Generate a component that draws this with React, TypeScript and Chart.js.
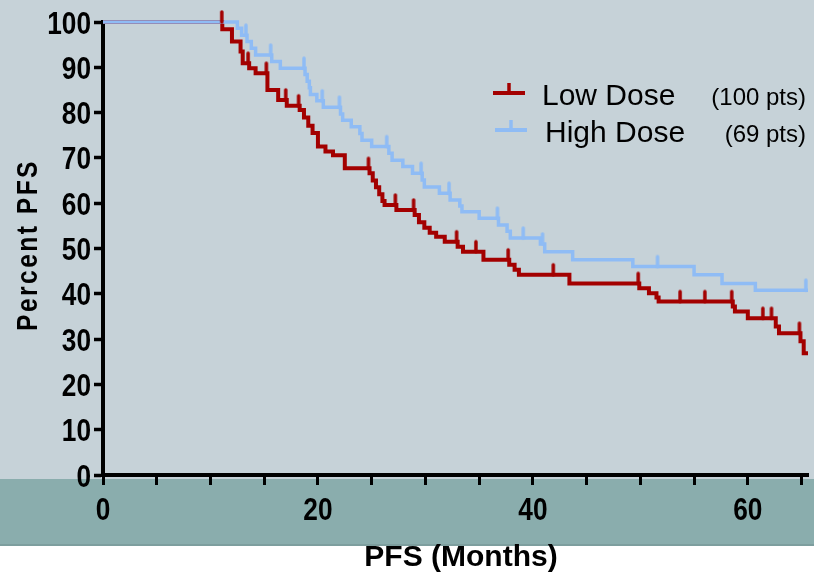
import React, { useEffect, useRef } from 'react';
import { Chart, registerables } from 'chart.js';

Chart.register(...registerables);

// ---- Data (months, percent PFS) ----
const lowTimes = [0, 11.1, 12.0, 12.8, 13.0, 13.6, 14.2, 15.3, 16.3, 17.1, 18.3, 18.7, 19.1, 19.5, 20.0, 20.7, 21.4, 22.5, 24.8, 25.1, 25.4, 25.7, 26.0, 26.2, 27.3, 29.0, 29.4, 29.9, 30.4, 31.0, 31.8, 33.0, 33.5, 35.4, 37.8, 38.3, 38.7, 43.4, 49.9, 50.8, 51.5, 51.7, 58.6, 58.8, 60.0, 62.6, 62.9, 64.9, 65.2, 65.6];
const lowSurv = [100, 98.4, 95.7, 93.5, 90.9, 89.8, 88.7, 85.0, 82.8, 81.5, 80.6, 78.9, 77.1, 75.5, 72.5, 71.4, 70.6, 67.7, 66.6, 65.0, 63.5, 62.0, 60.5, 59.6, 58.5, 57.4, 55.8, 54.6, 53.5, 52.6, 51.5, 50.4, 49.3, 47.5, 46.4, 45.3, 44.2, 42.3, 41.2, 40.1, 39.2, 38.3, 37.2, 36.1, 34.6, 32.8, 31.3, 29.5, 26.9, 26.9];
const lowCensor = [11.05, 13.5, 15.2, 17.0, 18.2, 24.7, 27.2, 28.9, 32.9, 34.7, 37.7, 41.9, 49.8, 53.7, 56.0, 58.5, 61.4, 62.2, 64.8];

const highTimes = [0, 12.5, 12.9, 13.4, 13.8, 14.2, 15.7, 16.5, 18.8, 19.0, 19.2, 19.3, 19.9, 20.5, 22.1, 22.3, 23.1, 23.9, 24.1, 25.0, 26.6, 26.9, 27.9, 28.8, 29.7, 29.9, 31.3, 32.3, 33.2, 33.4, 35.0, 36.8, 37.6, 37.9, 40.7, 41.1, 43.7, 49.3, 55.0, 57.6, 60.7, 65.6];
const highSurv = [100, 98.6, 97.1, 95.7, 94.2, 92.7, 91.3, 89.8, 88.4, 86.9, 85.5, 84.0, 82.6, 81.2, 79.7, 78.3, 76.9, 75.4, 73.9, 72.5, 71.0, 69.5, 68.1, 66.6, 65.1, 63.6, 62.2, 60.7, 59.4, 58.1, 56.7, 55.2, 53.8, 52.3, 51.0, 49.3, 47.5, 46.0, 44.2, 42.3, 40.8, 40.8];
const highCensor = [13.3, 15.6, 18.7, 20.4, 22.0, 26.4, 29.6, 32.2, 36.7, 39.1, 40.9, 51.6, 65.4];

const yTickValues = [0, 10, 20, 30, 40, 50, 60, 70, 80, 90, 100];
const xTickValues = [0, 5, 10, 15, 20, 25, 30, 35, 40, 45, 50, 55, 60, 65];
const xLabelValues = [0, 20, 40, 60];

const seriesLabels = ['Low Dose', 'High Dose'];
const seriesCounts = ['(100 pts)', '(69 pts)'];
const xTitle = 'PFS (Months)';
const yTitle = 'Percent PFS';

const RED = '#a30000';
const BLUE = '#8fbcf5';
const SANS = '"Liberation Sans", Arial, sans-serif';
const SQUEEZE = 0.82; // emulate a condensed bold face

function survAt(times: number[], surv: number[], t: number) {
  let v = surv[0];
  for (let i = 0; i < times.length; i++) if (times[i] <= t) v = surv[i];
  return v;
}

function tickImage(color: string) {
  const c = document.createElement('canvas');
  c.width = 8;
  c.height = 26;
  const g = c.getContext('2d')!;
  g.strokeStyle = color;
  g.lineWidth = 3.5;
  g.lineCap = 'round';
  g.beginPath();
  g.moveTo(4, 3);
  g.lineTo(4, 13);
  g.stroke();
  return c;
}

function squeezedText(ctx: CanvasRenderingContext2D, text: string, x: number, y: number, align: CanvasTextAlign, sx = SQUEEZE) {
  ctx.save();
  ctx.translate(x, y);
  ctx.scale(sx, 1);
  ctx.textAlign = align;
  ctx.fillText(text, 0, 0);
  ctx.restore();
}

const decorPlugin = {
  id: 'decor',
  beforeDraw(chart: any) {
    const { ctx, width, height } = chart;
    ctx.save();
    ctx.fillStyle = '#c6d2d8';
    ctx.fillRect(0, 0, width, 479);
    ctx.fillStyle = '#8aadad';
    ctx.fillRect(0, 479, width, 66);
    ctx.fillStyle = '#7d9e9e';
    ctx.fillRect(0, 544, width, 2);
    ctx.fillStyle = '#ffffff';
    ctx.fillRect(0, 546, width, height - 546);
    ctx.restore();
  },
  afterDraw(chart: any) {
    const { ctx } = chart;
    const xs = chart.scales.x;
    const ys = chart.scales.y;
    ctx.save();
    ctx.fillStyle = '#000';
    ctx.textBaseline = 'alphabetic';

    // tick labels (positions from the chart's scales)
    ctx.font = `bold 32px ${SANS}`;
    yTickValues.forEach((v) => {
      squeezedText(ctx, String(v), 91, ys.getPixelForValue(v) + 11.5, 'right');
    });
    xLabelValues.forEach((v) => {
      squeezedText(ctx, String(v), xs.getPixelForValue(v), 519.5, 'center');
    });

    // axis titles
    ctx.font = `bold 30px ${SANS}`;
    squeezedText(ctx, xTitle, 461, 566, 'center', 1);
    ctx.save();
    ctx.translate(37, 245);
    ctx.rotate(-Math.PI / 2);
    (ctx as any).letterSpacing = '3px';
    squeezedText(ctx, yTitle, 0, 0, 'center');
    ctx.restore();
    (ctx as any).letterSpacing = '0px';

    // legend
    const rows = [
      { color: RED, x0: 493, y: 93, label: seriesLabels[0], tx: 542, base: 105, count: seriesCounts[0] },
      { color: BLUE, x0: 495, y: 130, label: seriesLabels[1], tx: 545, base: 142, count: seriesCounts[1] },
    ];
    rows.forEach((r) => {
      ctx.strokeStyle = r.color;
      ctx.lineWidth = 4;
      ctx.lineCap = 'butt';
      ctx.beginPath();
      ctx.moveTo(r.x0, r.y);
      ctx.lineTo(r.x0 + 32, r.y);
      ctx.stroke();
      ctx.lineWidth = 3.5;
      ctx.beginPath();
      ctx.moveTo(r.x0 + 16, r.y - 10);
      ctx.lineTo(r.x0 + 16, r.y);
      ctx.stroke();
      ctx.fillStyle = '#000';
      ctx.font = `30px ${SANS}`;
      ctx.textAlign = 'left';
      ctx.fillText(r.label, r.tx, r.base);
      ctx.font = `24px ${SANS}`;
      ctx.textAlign = 'right';
      ctx.fillText(r.count, 806, r.base);
    });
    ctx.restore();
  },
};

export default function App() {
  const ref = useRef<HTMLCanvasElement>(null);
  useEffect(() => {
    const canvas = ref.current!;
    const mkLine = (t: number[], s: number[]) => t.map((x, i) => ({ x, y: s[i] }));
    const mkCensor = (c: number[], t: number[], s: number[]) => c.map((x) => ({ x, y: survAt(t, s, x) }));

    const chart = new Chart(canvas, {
      type: 'line',
      data: {
        datasets: [
          { label: seriesLabels[1], data: mkLine(highTimes, highSurv), borderColor: BLUE, borderWidth: 3.5, stepped: 'before', pointRadius: 0, fill: false, order: 1, clip: false } as any,
          { label: seriesLabels[0], data: mkLine(lowTimes, lowSurv), borderColor: RED, borderWidth: 4, stepped: 'before', pointRadius: 0, fill: false, order: 2, clip: false } as any,
          { label: 'High censored', data: mkCensor(highCensor, highTimes, highSurv), showLine: false, pointStyle: tickImage(BLUE), pointRadius: 5, order: 0, clip: false } as any,
          { label: 'Low censored', data: mkCensor(lowCensor, lowTimes, lowSurv), showLine: false, pointStyle: tickImage(RED), pointRadius: 5, order: 0, clip: false } as any,
        ],
      },
      options: {
        animation: false,
        responsive: true,
        maintainAspectRatio: false,
        layout: { padding: { top: 22, right: 0, bottom: 0, left: 0 } },
        plugins: { legend: { display: false }, tooltip: { enabled: false } },
        scales: {
          x: {
            type: 'linear',
            min: 0,
            max: 65.6,
            afterBuildTicks: (s: any) => { s.ticks = xTickValues.map((v) => ({ value: v })); },
            afterFit: (s: any) => { s.height = 99; },
            ticks: { display: false },
            grid: { drawOnChartArea: false, drawTicks: true, tickLength: 10, tickWidth: 3, tickColor: '#000' },
            border: { display: true, color: '#000', width: 4 },
          },
          y: {
            type: 'linear',
            min: 0,
            max: 100,
            afterBuildTicks: (s: any) => { s.ticks = yTickValues.map((v) => ({ value: v })); },
            afterFit: (s: any) => { s.width = 103; },
            ticks: { display: false },
            grid: { drawOnChartArea: false, drawTicks: true, tickLength: 9, tickWidth: 3.5, tickColor: '#000' },
            border: { display: true, color: '#000', width: 4 },
          },
        },
      } as any,
      plugins: [decorPlugin],
    });
    return () => chart.destroy();
  }, []);

  return (
    <div style={{ position: 'fixed', left: 0, top: 0, width: 814, height: 574 }}>
      <canvas ref={ref} />
    </div>
  );
}
